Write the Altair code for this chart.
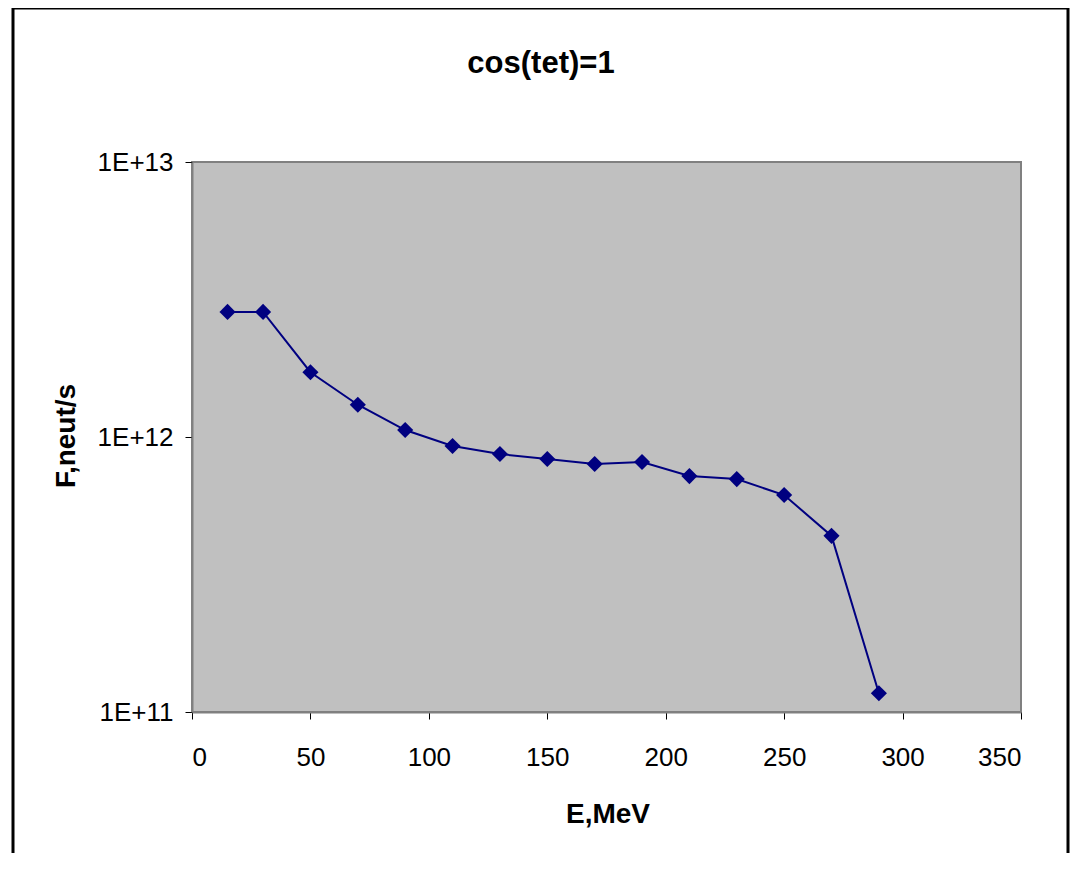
import altair as alt
import pandas as pd

energy = [15, 30, 50, 70, 90, 110, 130, 150, 170, 190, 210, 230, 250, 270, 290]
flux = [2.85e12, 2.85e12, 1.72e12, 1.31e12, 1.06e12, 9.27e11, 8.67e11, 8.32e11,
        7.98e11, 8.11e11, 7.21e11, 7.03e11, 6.15e11, 4.37e11, 1.17e11]
x_ticks = [0, 50, 100, 150, 200, 250, 300, 350]
y_ticks = [1e11, 1e12, 1e13]
chart_title = "cos(tet)=1"
x_title = "E,MeV"
y_title = "F,neut/s"

df = pd.DataFrame({"E": energy, "F": flux})
one = pd.DataFrame({"k": [0]})

FONT = "Liberation Sans"
NAVY = "#000080"

x = alt.X("E:Q", scale=alt.Scale(domain=[0, 350], nice=False),
          axis=alt.Axis(values=x_ticks, title=None, grid=False,
                        labelFontSize=26, labelFont=FONT, labelColor="black",
                        labelPadding=25, tickSize=7, tickColor="black",
                        domainColor="#808080", domainWidth=2))
y = alt.Y("F:Q", scale=alt.Scale(type="log", domain=[1e11, 1e13], nice=False),
          axis=alt.Axis(values=y_ticks, title=None, grid=False,
                        labelExpr="'1E+' + round(log(datum.value)/LN10)",
                        labelFontSize=26, labelFont=FONT, labelColor="black",
                        labelPadding=12, tickSize=7, tickColor="black",
                        domainColor="#808080", domainWidth=2))

line = alt.Chart(df).mark_line(color=NAVY, strokeWidth=2).encode(x=x, y=y)
pts = alt.Chart(df).mark_point(shape="diamond", filled=True, color=NAVY,
                               size=260, opacity=1).encode(x="E:Q", y="F:Q")

frame = alt.Chart(one).mark_rect(fill=None, stroke="black", strokeWidth=3).encode(
    x=alt.value(-179), x2=alt.value(876), y=alt.value(-154), y2=alt.value(760))

title_t = alt.Chart(one).mark_text(text=chart_title, font=FONT, fontSize=31,
                                   fontWeight="bold", color="black", align="center",
                                   baseline="alphabetic").encode(
    x=alt.value(349), y=alt.value(-89))
xt = alt.Chart(one).mark_text(text=x_title, font=FONT, fontSize=28,
                              fontWeight="bold", color="black", align="center",
                              baseline="alphabetic").encode(
    x=alt.value(416), y=alt.value(661))
yt = alt.Chart(one).mark_text(text=y_title, font=FONT, fontSize=28, angle=270,
                              fontWeight="bold", color="black", align="center",
                              baseline="alphabetic").encode(
    x=alt.value(-117), y=alt.value(274))

chart = alt.layer(frame, line, pts, title_t, xt, yt).properties(
    width=829, height=550,
    padding={"left": 184, "top": 154, "right": 49, "bottom": 141},
    autosize=alt.AutoSizeParams(type="none"),
    background="white",
).configure_view(fill="#C0C0C0", stroke="#808080", strokeWidth=2)

chart.save("out.html", embed_options={"renderer": "svg", "actions": False})
